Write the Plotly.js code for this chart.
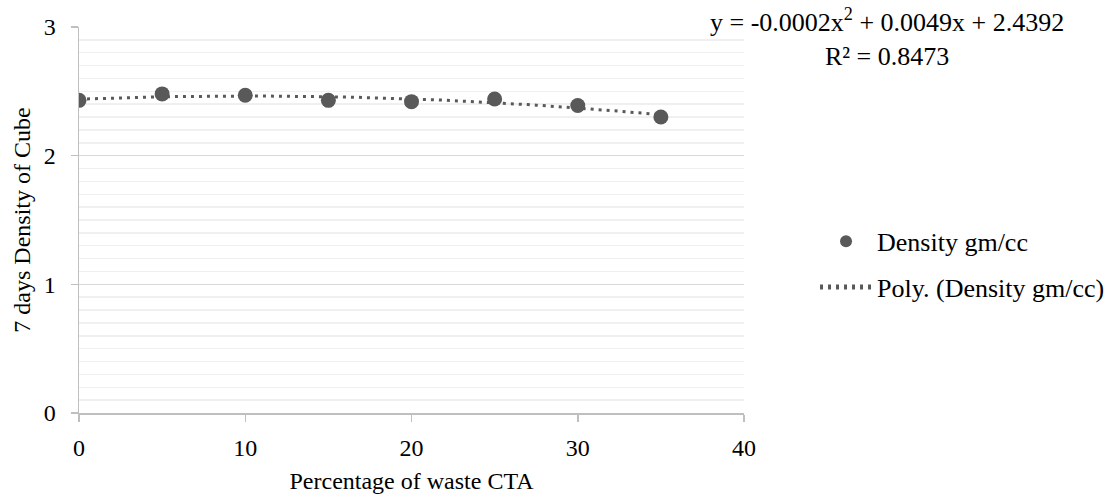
<!DOCTYPE html>
<html>
<head>
<meta charset="utf-8">
<script src="https://cdn.plot.ly/plotly-3.0.1.min.js"></script>
<style>html,body{margin:0;padding:0;background:#fff;}#chart{width:1117px;height:500px;}</style>
</head>
<body>
<div id="chart"></div>
<script>
// Data
const wastePercent = [0, 5, 10, 15, 20, 25, 30, 35];
const density = [2.43, 2.48, 2.47, 2.43, 2.42, 2.44, 2.39, 2.30];
const seriesName = 'Density gm/cc';
const trendName = 'Poly. (Density gm/cc)';
const equationText = 'y = -0.0002x<sup>2</sup> + 0.0049x + 2.4392<br>R² = 0.8473';
const xTicks = [0, 10, 20, 30, 40];
const yTicks = [0, 1, 2, 3];

// Order-2 least-squares fit of the data (Excel polynomial trendline)
function polyFit2(xs, ys) {
  let S = [0,0,0,0,0], T = [0,0,0];
  for (let i = 0; i < xs.length; i++) {
    let p = 1;
    for (let k = 0; k <= 4; k++) { S[k] += p; if (k <= 2) T[k] += p * ys[i]; p *= xs[i]; }
  }
  const A = [[S[0],S[1],S[2],T[0]],[S[1],S[2],S[3],T[1]],[S[2],S[3],S[4],T[2]]];
  for (let c = 0; c < 3; c++) {
    for (let r = c + 1; r < 3; r++) {
      const f = A[r][c] / A[c][c];
      for (let k = c; k < 4; k++) A[r][k] -= f * A[c][k];
    }
  }
  const b = [0,0,0];
  for (let r = 2; r >= 0; r--) {
    let s = A[r][3];
    for (let k = r + 1; k < 3; k++) s -= A[r][k] * b[k];
    b[r] = s / A[r][r];
  }
  return b;
}
const coef = polyFit2(wastePercent, density);
const xMin = Math.min(...wastePercent), xMax = Math.max(...wastePercent);
const trendX = [], trendY = [];
for (let i = 0; i <= 70; i++) {
  const x = xMin + (xMax - xMin) * i / 70;
  trendX.push(x);
  trendY.push(coef[0] + coef[1] * x + coef[2] * x * x);
}

const FONT = 'Liberation Serif, Times New Roman, serif';
const TXT = '#000000';

const traces = [
  {
    x: trendX, y: trendY, type: 'scatter', mode: 'lines', name: trendName,
    legendgroup: 'trend', legendrank: 2,
    line: {color: '#595959', width: 3, dash: '3px,5px'}, hoverinfo: 'skip'
  },
  {
    x: wastePercent, y: density, type: 'scatter', mode: 'markers', name: seriesName,
    legendgroup: 'data', legendrank: 1,
    marker: {color: '#595959', size: 15}
  }
];

const layout = {
  width: 1117, height: 500,
  margin: {l: 79, r: 373, t: 27, b: 87, autoexpand: false},
  paper_bgcolor: '#ffffff', plot_bgcolor: '#ffffff',
  font: {family: FONT, size: 24, color: TXT},
  showlegend: true,
  legend: {
    x: 1.1068, xanchor: 'left', y: 0.385, yanchor: 'middle',
    traceorder: 'grouped', tracegroupgap: 9, itemwidth: 52,
    font: {family: FONT, size: 26, color: TXT},
    bgcolor: 'rgba(0,0,0,0)', borderwidth: 0, itemsizing: 'constant'
  },
  xaxis: {
    range: [0, 40], tickvals: xTicks, ticktext: xTicks.map(String),
    showgrid: false, zeroline: false, showline: true, linecolor: '#bfbfbf', linewidth: 1.5,
    ticks: 'outside', ticklen: 7, tickcolor: '#bfbfbf', tickwidth: 1.5,
    tickfont: {family: FONT, size: 24, color: TXT}, ticklabelstandoff: 6,
    title: {text: 'Percentage of waste CTA', font: {family: FONT, size: 24, color: TXT}, standoff: 12},
    fixedrange: true
  },
  yaxis: {
    range: [0, 3], tickvals: yTicks, ticktext: yTicks.map(String),
    showgrid: true, gridcolor: '#d9d9d9', gridwidth: 1.5,
    zeroline: false, showline: true, linecolor: '#bfbfbf', linewidth: 1.5,
    ticks: 'outside', ticklen: 7, tickcolor: '#bfbfbf', tickwidth: 1.5,
    tickfont: {family: FONT, size: 24, color: TXT}, ticklabelstandoff: 10,
    minor: {dtick: 0.1, showgrid: true, gridcolor: '#f0f0f0', gridwidth: 1.5, ticks: ''},
    title: {text: '7 days Density of Cube', font: {family: FONT, size: 24, color: TXT}, standoff: 6},
    fixedrange: true
  },
  annotations: [
    {
      xref: 'paper', yref: 'paper', x: 1.2155, y: 1.065, xanchor: 'center', yanchor: 'top',
      text: equationText, showarrow: false, align: 'center',
      font: {family: FONT, size: 26, color: TXT}
    }
  ]
};

Plotly.newPlot('chart', traces, layout, {displayModeBar: false, staticPlot: true});
</script>
</body>
</html>
